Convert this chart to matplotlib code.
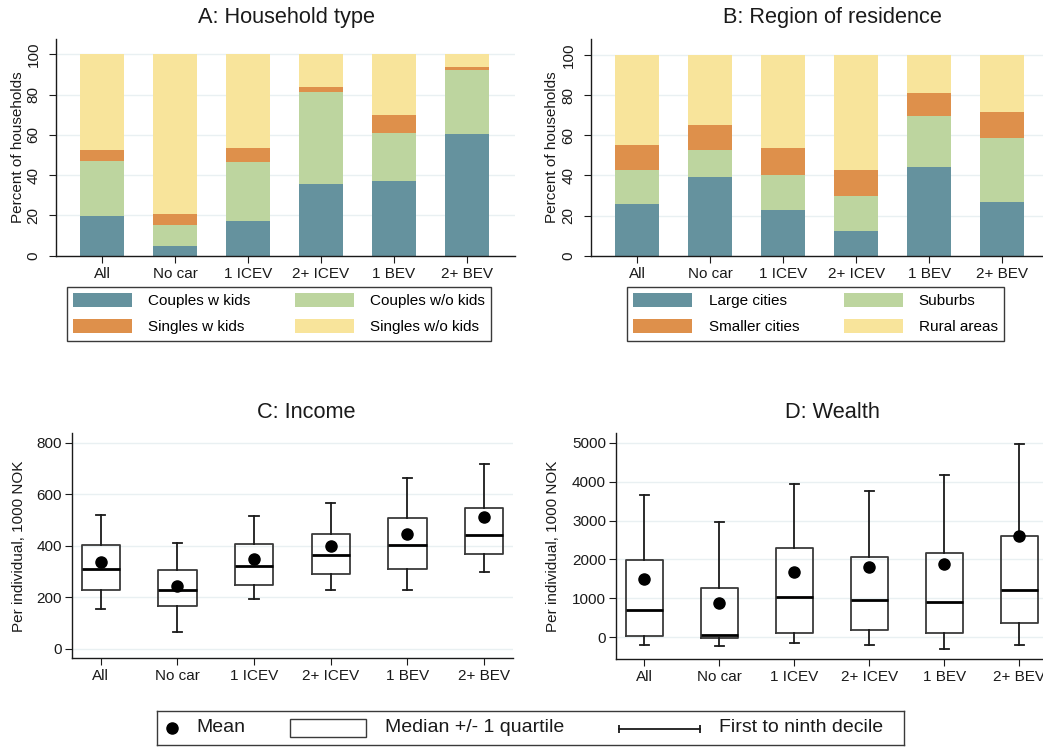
"""Household composition, region and income/wealth by car ownership (4 panels)."""
import matplotlib
matplotlib.use("Agg")
import matplotlib.pyplot as plt
from matplotlib.patches import Patch, Rectangle

# ---- data ---------------------------------------------------------------- #
GROUPS = ["All", "No car", "1 ICEV", "2+ ICEV", "1 BEV", "2+ BEV"]

# A: household type, percent of households (stack bottom -> top)
COUPLES_KIDS = [19.7, 4.8, 17.0, 35.6, 37.1, 60.4]
COUPLES_NOKIDS = [27.3, 10.4, 29.5, 45.7, 23.7, 31.8]
SINGLES_KIDS = [5.5, 5.5, 7.0, 2.5, 9.1, 1.5]
SINGLES_NOKIDS = [47.5, 79.3, 46.5, 16.2, 30.1, 6.3]

# B: region of residence, percent of households (stack bottom -> top)
LARGE_CITIES = [25.7, 39.2, 22.8, 12.1, 44.2, 26.7]
SUBURBS = [17.0, 13.5, 17.4, 17.6, 25.4, 31.9]
SMALLER_CITIES = [12.4, 12.4, 13.5, 13.0, 11.5, 13.0]
RURAL_AREAS = [44.9, 34.9, 46.3, 57.3, 18.9, 28.4]

# C: income per individual, 1000 NOK
INC_P10 = [154, 65, 195, 229, 229, 298]
INC_Q1 = [227, 165, 249, 292, 311, 367]
INC_MED = [309, 227, 322, 364, 403, 443]
INC_Q3 = [404, 305, 408, 446, 508, 548]
INC_P90 = [519, 412, 517, 565, 664, 718]
INC_MEAN = [336, 245, 349, 399, 446, 512]

# D: wealth per individual, 1000 NOK
WEA_P10 = [-188, -231, -137, -188, -300, -188]
WEA_Q1 = [26, -30, 120, 197, 103, 377]
WEA_MED = [711, 60, 1036, 959, 908, 1216]
WEA_Q3 = [1995, 1276, 2286, 2072, 2175, 2603]
WEA_P90 = [3647, 2971, 3947, 3750, 4161, 4957]
WEA_MEAN = [1498, 890, 1670, 1815, 1884, 2603]

# ---- style ---------------------------------------------------------------- #
TEAL = "#65929E"
GREEN = "#BDD59F"
ORANGE = "#DE904B"
YELLOW = "#F8E49B"
GRID = "#E9F0F2"
INK = "#1A1A1A"
EDGE = "#3A3A3A"

W, H = 1043, 747
plt.rcParams.update({
    "font.family": ["Liberation Sans", "DejaVu Sans"],
    "font.size": 11,
    "axes.linewidth": 1.0,
    "axes.edgecolor": INK,
    "xtick.color": INK,
    "ytick.color": INK,
})

fig = plt.figure(figsize=(W / 100, H / 100), dpi=100)


def px_axes(x0, y0, x1, y1):
    """Axes placed by pixel box (top-left origin)."""
    return fig.add_axes([x0 / W, 1 - y1 / H, (x1 - x0) / W, (y1 - y0) / H])


def base_style(ax, yticks, rot):
    ax.spines[["top", "right"]].set_visible(False)
    ax.set_yticks(yticks)
    ax.set_xticks(range(len(GROUPS)))
    ax.set_xticklabels(GROUPS)
    ax.grid(axis="y", color=GRID, lw=1.0)
    ax.set_axisbelow(True)
    ax.tick_params(axis="x", length=5, pad=3, labelsize=11)
    if rot:
        ax.tick_params(axis="y", length=5, pad=6, labelsize=11)
        for t in ax.get_yticklabels():
            t.set_rotation(90)
            t.set_va("center")
    else:
        ax.tick_params(axis="y", length=5, pad=2, labelsize=11)


def stacked(ax, layers, colors):
    bottom = [0.0] * len(GROUPS)
    for vals, c in zip(layers, colors):
        ax.bar(range(len(GROUPS)), vals, width=0.6, bottom=bottom, color=c,
               lw=0)
        bottom = [b + v for b, v in zip(bottom, vals)]


def bar_legend(ax, labels, colors, x0, y0):
    handles = [Patch(facecolor=c, edgecolor="none") for c in colors]
    # matplotlib fills columns first; reference reads row by row
    order = [0, 2, 1, 3]
    ax.legend([handles[i] for i in order], [labels[i] for i in order],
              ncol=2, loc="upper left", bbox_to_anchor=(x0 / W, 1 - y0 / H),
              bbox_transform=fig.transFigure, frameon=True, fancybox=False,
              edgecolor=EDGE, framealpha=1, fontsize=11, borderaxespad=0,
              borderpad=0.4, handlelength=3.86, handleheight=1.05,
              handletextpad=1.07, columnspacing=2.9, labelspacing=0.72)


def boxes(ax, p10, q1, med, q3, p90, mean, width, capw):
    stats = [dict(whislo=a, q1=b, med=c, q3=d, whishi=e, mean=f)
             for a, b, c, d, e, f in zip(p10, q1, med, q3, p90, mean)]
    ax.bxp(stats, positions=range(len(GROUPS)), widths=width,
           capwidths=capw, showmeans=True, showfliers=False,
           boxprops=dict(color=EDGE, lw=1.3),
           medianprops=dict(color="black", lw=2.0),
           whiskerprops=dict(color=INK, lw=1.3),
           capprops=dict(color=INK, lw=1.3),
           meanprops=dict(marker="o", markerfacecolor="black",
                          markeredgecolor="black", markersize=8))


# ---- A: household type ---------------------------------------------------- #
axA = px_axes(55.7, 39, 515, 255.7)
stacked(axA, [COUPLES_KIDS, COUPLES_NOKIDS, SINGLES_KIDS, SINGLES_NOKIDS],
        [TEAL, GREEN, ORANGE, YELLOW])
axA.set_xlim(-0.634, 5.66)
axA.set_ylim(0, 107.6)
base_style(axA, range(0, 101, 20), rot=True)
bar_legend(axA, ["Couples w kids", "Couples w/o kids", "Singles w kids",
                 "Singles w/o kids"], [TEAL, GREEN, ORANGE, YELLOW],
           66.7, 286.7)

# ---- B: region of residence ----------------------------------------------- #
axB = px_axes(590.7, 39, 1043, 255.7)
stacked(axB, [LARGE_CITIES, SUBURBS, SMALLER_CITIES, RURAL_AREAS],
        [TEAL, GREEN, ORANGE, YELLOW])
axB.set_xlim(-0.634, 5.56)
axB.set_ylim(0, 108)
base_style(axB, range(0, 101, 20), rot=True)
bar_legend(axB, ["Large cities", "Suburbs", "Smaller cities", "Rural areas"],
           [TEAL, GREEN, ORANGE, YELLOW], 627.3, 286.7)

# ---- C: income ------------------------------------------------------------ #
axC = px_axes(71.7, 433, 513, 658)
boxes(axC, INC_P10, INC_Q1, INC_MED, INC_Q3, INC_P90, INC_MEAN, 0.5, 0.12)
axC.set_xlim(-0.378, 5.376)
axC.set_ylim(-35, 837.6)
base_style(axC, range(0, 801, 200), rot=False)

# ---- D: wealth ------------------------------------------------------------ #
axD = px_axes(615.7, 433, 1043, 658.7)
boxes(axD, WEA_P10, WEA_Q1, WEA_MED, WEA_Q3, WEA_P90, WEA_MEAN, 0.49, 0.12)
axD.set_xlim(-0.381, 5.316)
axD.set_ylim(-550, 5249)
base_style(axD, range(0, 5001, 1000), rot=False)

# ---- titles and axis labels ----------------------------------------------- #
TITLE_KW = dict(ha="center", va="center", fontsize=15.7, color=INK)
fig.text(286 / W, 1 - 18 / H, "A: Household type", **TITLE_KW)
fig.text(832 / W, 1 - 18 / H, "B: Region of residence", **TITLE_KW)
fig.text(306 / W, 1 - 413 / H, "C: Income", **TITLE_KW)
fig.text(832 / W, 1 - 413 / H, "D: Wealth", **TITLE_KW)

YLAB_KW = dict(ha="center", va="center", rotation=90, fontsize=11, color=INK)
fig.text(18 / W, 1 - 147 / H, "Percent of households", **YLAB_KW)
fig.text(552 / W, 1 - 147 / H, "Percent of households", **YLAB_KW)
fig.text(19 / W, 1 - 546 / H, "Per individual, 1000 NOK", **YLAB_KW)
fig.text(553 / W, 1 - 546 / H, "Per individual, 1000 NOK", **YLAB_KW)

# ---- shared legend for the box panels (pixel coordinates) ---------------- #
axL = px_axes(157, 711, 904, 745)
axL.set_xlim(157, 904)
axL.set_ylim(745, 711)
axL.set_xticks([])
axL.set_yticks([])
for s in axL.spines.values():
    s.set_color(EDGE)
    s.set_linewidth(1.0)
axL.plot([172], [728], "o", color="black", ms=8)
axL.add_patch(Rectangle((290, 719), 76, 18, fc="white", ec=EDGE, lw=1.0))
axL.plot([619, 700], [729, 729], color=INK, lw=1.3)
axL.plot([619, 700], [729, 729], ls="none", marker="|", ms=6, mew=1.3,
         color=INK)
LEG_KW = dict(ha="left", va="center", fontsize=14, color=INK)
axL.text(196, 728, "Mean", **LEG_KW)
axL.text(385, 728, "Median +/- 1 quartile", **LEG_KW)
axL.text(719, 728, "First to ninth decile", **LEG_KW)

fig.savefig("out.png", dpi=100, facecolor="white")
